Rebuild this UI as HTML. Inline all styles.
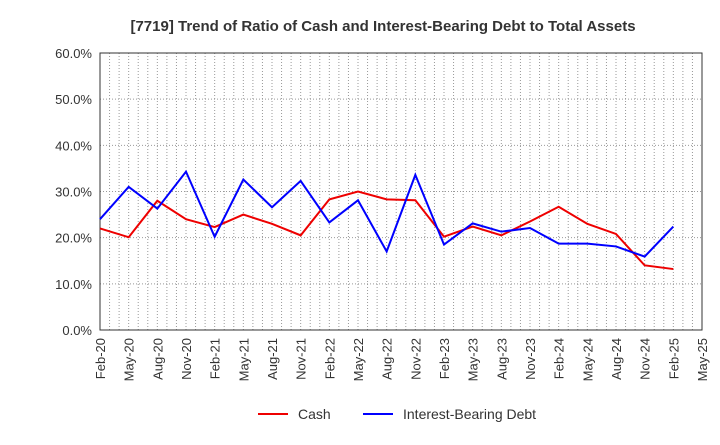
<!DOCTYPE html>
<html><head><meta charset="utf-8"><style>
body{margin:0;background:#fff;font-family:"Liberation Sans",Arial,sans-serif;}
</style></head><body>
<svg id="c" width="720" height="440" xmlns="http://www.w3.org/2000/svg">
<text x="383" y="31" text-anchor="middle" font-size="15" font-weight="bold" fill="#333">[7719]  Trend of Ratio of Cash and Interest-Bearing Debt to Total Assets</text>
<g id="grid"></g><g id="axes"></g><g id="series"></g>
<g>
<line x1="258" y1="414" x2="288" y2="414" stroke="#e00" stroke-width="2"/>
<text x="298" y="419" font-size="14" fill="#333">Cash</text>
<line x1="363" y1="414" x2="393" y2="414" stroke="#00f" stroke-width="2"/>
<text x="403" y="419" font-size="14" fill="#333">Interest-Bearing Debt</text>
</g>
</svg>
<script>
const xLabels=["Feb-20","May-20","Aug-20","Nov-20","Feb-21","May-21","Aug-21","Nov-21","Feb-22","May-22","Aug-22","Nov-22","Feb-23","May-23","Aug-23","Nov-23","Feb-24","May-24","Aug-24","Nov-24","Feb-25","May-25"];
const yTicks=[0,10,20,30,40,50,60];
const cash=[22.0,20.1,28.0,24.0,22.3,25.0,23.0,20.5,28.3,30.0,28.3,28.1,20.2,22.4,20.5,23.5,26.7,23.0,20.8,14.0,13.2];
const debt=[24.0,31.0,26.3,34.3,20.2,32.6,26.6,32.3,23.3,28.1,17.0,33.6,18.5,23.1,21.3,22.1,18.7,18.7,18.1,15.9,22.4];
const X0=100,X1=702,Y0=330,Y1=53;
const step=(X1-X0)/(xLabels.length-1);
const xs=i=>X0+i*step;
const ys=v=>Y0-(v/60)*(Y0-Y1);
const NS="http://www.w3.org/2000/svg";
function mk(t,a,p){const e=document.createElementNS(NS,t);for(const k in a)e.setAttribute(k,a[k]);p.appendChild(e);return e;}
const g=document.getElementById('grid'),ax=document.getElementById('axes'),s=document.getElementById('series');
for(let m=1;m<(xLabels.length-1)*3;m++){const x=X0+m*step/3;
const l=mk('line',{x1:x,x2:x,y1:Y1,y2:Y0,stroke:'#999','stroke-dasharray':'1,2','stroke-width':1},g);

}
yTicks.forEach(v=>{const y=ys(v);
const l=mk('line',{x1:X0,x2:X1,y1:y,y2:y,stroke:'#999','stroke-dasharray':'1,2'},g);


const t=mk('text',{x:X0-8,y:y+5,'text-anchor':'end','font-size':13,fill:'#333'},ax);t.textContent=v.toFixed(1)+'%';

});
mk('rect',{x:X0,y:Y1,width:X1-X0,height:Y0-Y1,fill:'none',stroke:'#333'},ax);
xLabels.forEach((lb,i)=>{const x=xs(i);
const t=mk('text',{x:x+5,y:Y0+8,'text-anchor':'end','font-size':13,fill:'#333',transform:`rotate(-90 ${x+5} ${Y0+8})`},ax);t.textContent=lb;

});
function line(d,c,n){const p=mk('polyline',{points:d.map((v,i)=>xs(i)+','+ys(v)).join(' '),fill:'none',stroke:c,'stroke-width':2},s);

}
line(cash,'#e00','cash-line');
line(debt,'#00f','debt-line');
</script>
</body></html>
